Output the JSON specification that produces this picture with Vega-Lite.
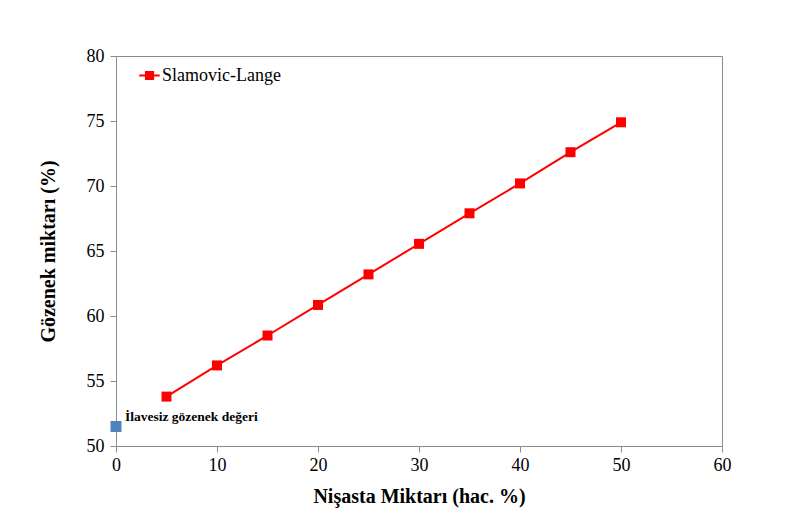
{
  "$schema": "https://vega.github.io/schema/vega-lite/v6.json",
  "autosize": {"type": "none"},
  "width": 606,
  "height": 390,
  "padding": {"left": 116, "top": 56, "right": 86, "bottom": 85},
  "background": "white",
  "config": {
    "view": {"stroke": "#8c8c8c", "strokeWidth": 1},
    "font": "Liberation Serif",
    "axis": {
      "grid": false,
      "domainColor": "#8c8c8c",
      "tickColor": "#8c8c8c",
      "labelFont": "Liberation Serif",
      "labelFontSize": 18,
      "labelColor": "#000",
      "labelFlush": false,
      "labelBound": false,
      "titleFont": "Liberation Serif",
      "titleFontSize": 20,
      "titleFontWeight": "bold",
      "titleColor": "#000",
      "tickSize": 6
    }
  },
  "datasets": {
    "sl": [
      {"x": 5, "y": 53.8, "series": "Slamovic-Lange"},
      {"x": 10, "y": 56.2, "series": "Slamovic-Lange"},
      {"x": 15, "y": 58.5, "series": "Slamovic-Lange"},
      {"x": 20, "y": 60.85, "series": "Slamovic-Lange"},
      {"x": 25, "y": 63.2, "series": "Slamovic-Lange"},
      {"x": 30, "y": 65.55, "series": "Slamovic-Lange"},
      {"x": 35, "y": 67.9, "series": "Slamovic-Lange"},
      {"x": 40, "y": 70.2, "series": "Slamovic-Lange"},
      {"x": 45, "y": 72.6, "series": "Slamovic-Lange"},
      {"x": 50, "y": 74.9, "series": "Slamovic-Lange"}
    ],
    "base": [
      {"x": 0, "y": 51.5, "label": "İlavesiz gözenek değeri"}
    ]
  },
  "layer": [
    {
      "data": {"name": "sl"},
      "mark": {"type": "line", "strokeWidth": 2, "point": {"shape": "square", "size": 100, "filled": true, "opacity": 1}},
      "encoding": {
        "x": {"field": "x", "type": "quantitative", "scale": {"domain": [0, 60]}, "axis": {"values": [0, 10, 20, 30, 40, 50, 60], "title": "Nişasta Miktarı (hac. %)", "titlePadding": 12, "labelPadding": 4}},
        "y": {"field": "y", "type": "quantitative", "scale": {"domain": [50, 80], "zero": false}, "axis": {"values": [50, 55, 60, 65, 70, 75, 80], "title": "Gözenek miktarı (%)", "titlePadding": 28, "labelPadding": 6}},
        "color": {
          "field": "series", "type": "nominal",
          "scale": {"range": ["#FF0000"]},
          "legend": {
            "title": null,
            "orient": "none",
            "legendX": 22,
            "legendY": 8,
            "labelFont": "Liberation Serif",
            "labelFontSize": 18,
            "labelColor": "#000",
            "symbolType": "M-1,0H1M-0.35,-0.35H0.35V0.35H-0.35Z",
            "symbolSize": 420,
            "symbolStrokeWidth": 2,
            "symbolFillColor": "#FF0000",
            "symbolStrokeColor": "#FF0000",
            "labelOffset": 1
          }
        }
      }
    },
    {
      "data": {"name": "base"},
      "mark": {"type": "point", "shape": "square", "size": 121, "filled": true, "color": "#4F81BD", "opacity": 1},
      "encoding": {
        "x": {"field": "x", "type": "quantitative"},
        "y": {"field": "y", "type": "quantitative"}
      }
    },
    {
      "data": {"name": "base"},
      "mark": {"type": "text", "align": "left", "baseline": "middle", "dx": 9, "dy": -10, "font": "Liberation Serif", "fontSize": 13.5, "fontWeight": "bold", "color": "#000"},
      "encoding": {
        "x": {"field": "x", "type": "quantitative"},
        "y": {"field": "y", "type": "quantitative"},
        "text": {"field": "label"}
      }
    }
  ]
}
